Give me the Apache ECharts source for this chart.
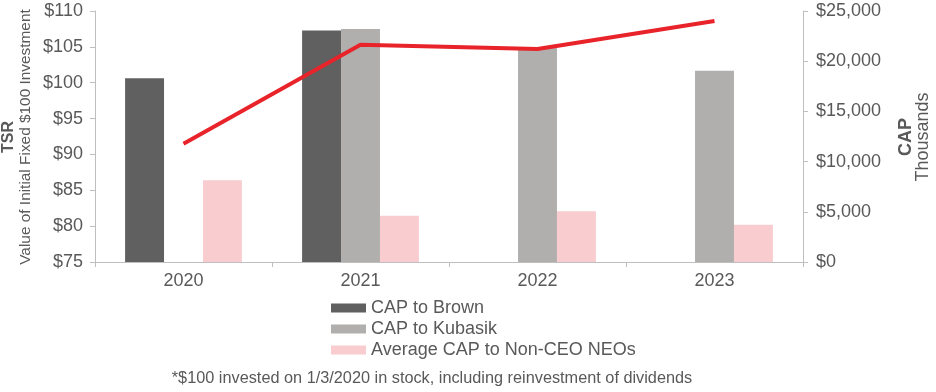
<!DOCTYPE html>
<html>
<head>
<meta charset="utf-8">
<script src="https://cdn.jsdelivr.net/npm/echarts@6/dist/echarts.min.js"></script>
<style>html,body{margin:0;padding:0;background:#fff}#c{width:936px;height:392px}</style>
</head>
<body>
<div id="c"></div>
<script>
var categories = ['2020', '2021', '2022', '2023'];
var capBrown = [18300, 23050, null, null];
var capKubasik = [null, 23200, 21400, 19050];
var capNonCeo = [8150, 4600, 5050, 3700];
var tsr = [91.5, 105.3, 104.7, 108.6];
var seriesNames = ['CAP to Brown', 'CAP to Kubasik', 'Average CAP to Non-CEO NEOs', 'TSR'];
var footnote = '*$100 invested on 1/3/2020 in stock, including reinvestment of dividends';

var FONT = '"Liberation Sans", Arial, sans-serif';
var TXT = '#595959';
var AX = '#bfbfbf';

var chart = echarts.init(document.getElementById('c'));
chart.setOption({
  animation: false,
  textStyle: { fontFamily: FONT },
  grid: { left: 95, right: 133, top: 11, bottom: 130 },
  legend: {
    data: seriesNames.slice(0, 3),
    orient: 'vertical',
    left: 326, top: 294,
    itemWidth: 35, itemHeight: 9, itemGap: 3,
    icon: 'rect',
    textStyle: { fontFamily: FONT, fontSize: 18, color: TXT, lineHeight: 18 }
  },
  xAxis: {
    type: 'category',
    data: categories,
    axisLine: { lineStyle: { color: AX, width: 1 } },
    axisTick: { show: true, length: 5, lineStyle: { color: AX } },
    axisLabel: { color: TXT, fontSize: 18, margin: 10, fontFamily: FONT }
  },
  yAxis: [
    {
      type: 'value', min: 75, max: 110, interval: 5, position: 'left',
      axisLine: { show: true, lineStyle: { color: AX } },
      axisTick: { show: true, length: 5, lineStyle: { color: AX } },
      splitLine: { show: false },
      axisLabel: { color: TXT, fontSize: 18, margin: 12, fontFamily: FONT,
        formatter: function (v) { return '$' + v; } }
    },
    {
      type: 'value', min: 0, max: 25000, interval: 5000, position: 'right',
      axisLine: { show: true, lineStyle: { color: AX } },
      axisTick: { show: true, length: 5, lineStyle: { color: AX } },
      splitLine: { show: false },
      axisLabel: { color: TXT, fontSize: 18, margin: 13, fontFamily: FONT,
        formatter: function (v) { return '$' + v.toLocaleString('en-US'); } }
    }
  ],
  series: [
    { name: seriesNames[0], type: 'bar', yAxisIndex: 1, data: capBrown,
      itemStyle: { color: '#5f605f' }, barWidth: '22%', barGap: '0%' },
    { name: seriesNames[1], type: 'bar', yAxisIndex: 1, data: capKubasik,
      itemStyle: { color: '#b0afae' }, barWidth: '22%', barGap: '0%' },
    { name: seriesNames[2], type: 'bar', yAxisIndex: 1, data: capNonCeo,
      itemStyle: { color: '#f9ccd0' }, barWidth: '22%', barGap: '0%' },
    { name: seriesNames[3], type: 'line', yAxisIndex: 0, data: tsr,
      symbol: 'none', lineStyle: { color: '#e8232a', width: 4 }, z: 5 }
  ],
  graphic: [
    { type: 'text', x: 9, y: 137, rotation: Math.PI / 2,
      style: { text: 'TSR', font: 'bold 16px ' + FONT, fill: TXT, textAlign: 'center', textVerticalAlign: 'middle' } },
    { type: 'text', x: 26, y: 137, rotation: Math.PI / 2,
      style: { text: 'Value of Initial Fixed $100 Investment', font: '15.4px ' + FONT, fill: TXT, textAlign: 'center', textVerticalAlign: 'middle' } },
    { type: 'text', x: 906, y: 137, rotation: Math.PI / 2,
      style: { text: 'CAP', font: 'bold 18px ' + FONT, fill: TXT, textAlign: 'center', textVerticalAlign: 'middle' } },
    { type: 'text', x: 923, y: 137, rotation: Math.PI / 2,
      style: { text: 'Thousands', font: '18px ' + FONT, fill: TXT, textAlign: 'center', textVerticalAlign: 'middle' } },
    { type: 'text', x: 432, y: 379,
      style: { text: footnote, font: '16.3px ' + FONT, fill: TXT, textAlign: 'center', textVerticalAlign: 'middle' } }
  ]
});
</script>
</body>
</html>
